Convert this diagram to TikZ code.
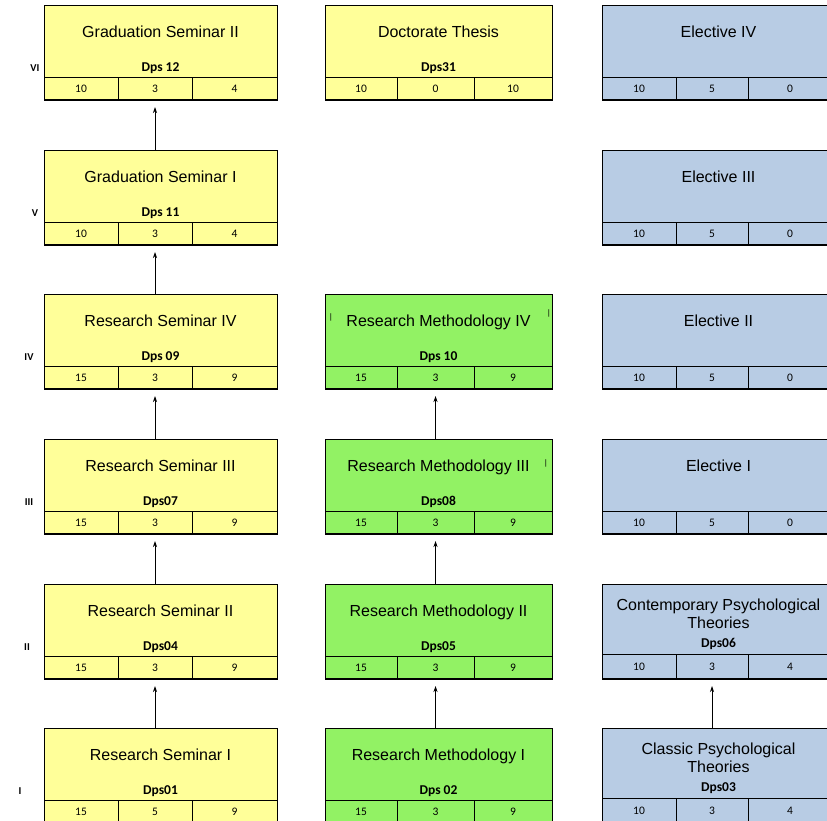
\documentclass[tikz,border=0pt]{standalone}
\usepackage{fontspec}
\setmainfont{Liberation Sans}
\newfontfamily\calib{Carlito}
\usetikzlibrary{arrows.meta}

\definecolor{semyellow}{RGB}{255,255,153}
\definecolor{semgreen}{RGB}{146,242,100}
\definecolor{semblue}{RGB}{184,204,228}

\tikzset{every picture/.style={line width=0.75pt}}
\tikzset{
  course/.style={draw, line width=1pt, minimum height=95, inner sep=0pt, anchor=north west},
  lcol/.style={minimum width=233},
  mcol/.style={minimum width=227},
  rcol/.style={minimum width=233},
  title/.style={inner sep=0.75pt, anchor=base, font=\fontsize{16}{17.5}\selectfont, align=center},
  code/.style={inner sep=0.75pt, font=\calib\bfseries\fontsize{13.5}{15}\selectfont},
  num/.style={inner sep=0.75pt, font=\calib\fontsize{11.5}{13}\selectfont},
  sem/.style={inner sep=0.75pt, font=\calib\bfseries\fontsize{10.5}{12}\selectfont},
  cell/.style={line width=0.9pt},
  base/.style={line width=1.6pt},
  arr/.style={-{Stealth[length=6pt,width=4pt]}, line width=0.75pt, shorten >=6pt},
  stray/.style={inner sep=0pt, font=\fontsize{8}{9}\selectfont}
}

\begin{document}
\begin{tikzpicture}[x=1pt,y=1pt,yscale=-1,xscale=1]
\useasboundingbox (0,0) rectangle (827,820);

% Semester labels
\node[sem] (s6) at (35,68) {VI};
\node[sem] (s5) at (35,213) {V};
\node[sem] (s4) at (29,357) {IV};
\node[sem] (s3) at (29,502) {III};
\node[sem] (s2) at (27,647) {II};
\node[sem] (s1) at (20,791) {I};

%%%%%%%%%%%%%%%% left column %%%%%%%%%%%%%%%%
% Graduation Seminar II
\node[course, lcol, fill=semyellow] (gs2) at (44,5) {};
\node[title] (gs2t) at (160.5,37.5) {Graduation Seminar II};
\node[code] (gs2c) at (160.5,68) {Dps 12};
\draw[cell] (44,77) -- (277,77) (118,77) -- (118,100) (192,77) -- (192,100);
\draw[base] (44,100) -- (277,100);
\node[num] (gs2a) at (81,89) {10};
\node[num] (gs2b) at (155,89) {3};
\node[num] (gs2d) at (234.5,89) {4};

% Graduation Seminar I
\node[course, lcol, fill=semyellow] (gs1) at (44,150) {};
\node[title] (gs1t) at (160.5,182.5) {Graduation Seminar I};
\node[code] (gs1c) at (160.5,213) {Dps 11};
\draw[cell] (44,222) -- (277,222) (118,222) -- (118,245) (192,222) -- (192,245);
\draw[base] (44,245) -- (277,245);
\node[num] (gs1a) at (81,234) {10};
\node[num] (gs1b) at (155,234) {3};
\node[num] (gs1d) at (234.5,234) {4};

% Research Seminar IV
\node[course, lcol, fill=semyellow] (rs4) at (44,294) {};
\node[title] (rs4t) at (160.5,326.5) {Research Seminar IV};
\node[code] (rs4c) at (160.5,357) {Dps 09};
\draw[cell] (44,366) -- (277,366) (118,366) -- (118,389) (192,366) -- (192,389);
\draw[base] (44,389) -- (277,389);
\node[num] (rs4a) at (81,378) {15};
\node[num] (rs4b) at (155,378) {3};
\node[num] (rs4d) at (234.5,378) {9};

% Research Seminar III
\node[course, lcol, fill=semyellow] (rs3) at (44,439) {};
\node[title] (rs3t) at (160.5,471.5) {Research Seminar III};
\node[code] (rs3c) at (160.5,502) {Dps07};
\draw[cell] (44,511) -- (277,511) (118,511) -- (118,534) (192,511) -- (192,534);
\draw[base] (44,534) -- (277,534);
\node[num] (rs3a) at (81,523) {15};
\node[num] (rs3b) at (155,523) {3};
\node[num] (rs3d) at (234.5,523) {9};

% Research Seminar II
\node[course, lcol, fill=semyellow] (rs2) at (44,584) {};
\node[title] (rs2t) at (160.5,616.5) {Research Seminar II};
\node[code] (rs2c) at (160.5,647) {Dps04};
\draw[cell] (44,656) -- (277,656) (118,656) -- (118,679) (192,656) -- (192,679);
\draw[base] (44,679) -- (277,679);
\node[num] (rs2a) at (81,668) {15};
\node[num] (rs2b) at (155,668) {3};
\node[num] (rs2d) at (234.5,668) {9};

% Research Seminar I
\node[course, lcol, fill=semyellow] (rs1) at (44,728) {};
\node[title] (rs1t) at (160.5,760.5) {Research Seminar I};
\node[code] (rs1c) at (160.5,791) {Dps01};
\draw[cell] (44,800) -- (277,800) (118,800) -- (118,823) (192,800) -- (192,823);
\draw[base] (44,823) -- (277,823);
\node[num] (rs1a) at (81,812) {15};
\node[num] (rs1b) at (155,812) {5};
\node[num] (rs1d) at (234.5,812) {9};

%%%%%%%%%%%%%%%% middle column %%%%%%%%%%%%%%%%
% Doctorate Thesis
\node[course, mcol, fill=semyellow] (dt) at (325,5) {};
\node[title] (dtt) at (438.5,37.5) {Doctorate Thesis};
\node[code] (dtc) at (438.5,68) {Dps31};
\draw[cell] (325,77) -- (552,77) (397,77) -- (397,100) (474,77) -- (474,100);
\draw[base] (325,100) -- (552,100);
\node[num] (dta) at (361,89) {10};
\node[num] (dtb) at (435.5,89) {0};
\node[num] (dtd) at (513,89) {10};

% Research Methodology IV
\node[course, mcol, fill=semgreen] (rm4) at (325,294) {};
\node[title] (rm4t) at (438.5,326.5) {Research Methodology IV};
\node[code] (rm4c) at (438.5,357) {Dps 10};
\draw[cell] (325,366) -- (552,366) (397,366) -- (397,389) (474,366) -- (474,389);
\draw[base] (325,389) -- (552,389);
\node[num] (rm4a) at (361,378) {15};
\node[num] (rm4b) at (435.5,378) {3};
\node[num] (rm4d) at (513,378) {9};
\node[stray] (rm4x) at (331,317) {|};
\node[stray] (rm4y) at (549,313) {|};

% Research Methodology III
\node[course, mcol, fill=semgreen] (rm3) at (325,439) {};
\node[title] (rm3t) at (438.5,471.5) {Research Methodology III};
\node[code] (rm3c) at (438.5,502) {Dps08};
\draw[cell] (325,511) -- (552,511) (397,511) -- (397,534) (474,511) -- (474,534);
\draw[base] (325,534) -- (552,534);
\node[num] (rm3a) at (361,523) {15};
\node[num] (rm3b) at (435.5,523) {3};
\node[num] (rm3d) at (513,523) {9};
\node[stray] (rm3y) at (546,463) {|};

% Research Methodology II
\node[course, mcol, fill=semgreen] (rm2) at (325,584) {};
\node[title] (rm2t) at (438.5,616.5) {Research Methodology II};
\node[code] (rm2c) at (438.5,647) {Dps05};
\draw[cell] (325,656) -- (552,656) (397,656) -- (397,679) (474,656) -- (474,679);
\draw[base] (325,679) -- (552,679);
\node[num] (rm2a) at (361,668) {15};
\node[num] (rm2b) at (435.5,668) {3};
\node[num] (rm2d) at (513,668) {9};

% Research Methodology I
\node[course, mcol, fill=semgreen] (rm1) at (325,728) {};
\node[title] (rm1t) at (438.5,760.5) {Research Methodology I};
\node[code] (rm1c) at (438.5,791) {Dps 02};
\draw[cell] (325,800) -- (552,800) (397,800) -- (397,823) (474,800) -- (474,823);
\draw[base] (325,823) -- (552,823);
\node[num] (rm1a) at (361,812) {15};
\node[num] (rm1b) at (435.5,812) {3};
\node[num] (rm1d) at (513,812) {9};

%%%%%%%%%%%%%%%% right column %%%%%%%%%%%%%%%%
% Elective IV
\node[course, rcol, fill=semblue] (el4) at (602,5) {};
\node[title] (el4t) at (718.5,37.5) {Elective IV};
\draw[cell] (602,77) -- (835,77) (676,77) -- (676,100) (748,77) -- (748,100);
\draw[base] (602,100) -- (835,100);
\node[num] (el4a) at (639,89) {10};
\node[num] (el4b) at (712,89) {5};
\node[num] (el4d) at (790,89) {0};

% Elective III
\node[course, rcol, fill=semblue] (el3) at (602,150) {};
\node[title] (el3t) at (718.5,182.5) {Elective III};
\draw[cell] (602,222) -- (835,222) (676,222) -- (676,245) (748,222) -- (748,245);
\draw[base] (602,245) -- (835,245);
\node[num] (el3a) at (639,234) {10};
\node[num] (el3b) at (712,234) {5};
\node[num] (el3d) at (790,234) {0};

% Elective II
\node[course, rcol, fill=semblue] (el2) at (602,294) {};
\node[title] (el2t) at (718.5,326.5) {Elective II};
\draw[cell] (602,366) -- (835,366) (676,366) -- (676,389) (748,366) -- (748,389);
\draw[base] (602,389) -- (835,389);
\node[num] (el2a) at (639,378) {10};
\node[num] (el2b) at (712,378) {5};
\node[num] (el2d) at (790,378) {0};

% Elective I
\node[course, rcol, fill=semblue] (el1) at (602,439) {};
\node[title] (el1t) at (718.5,471.5) {Elective I};
\draw[cell] (602,511) -- (835,511) (676,511) -- (676,534) (748,511) -- (748,534);
\draw[base] (602,534) -- (835,534);
\node[num] (el1a) at (639,523) {10};
\node[num] (el1b) at (712,523) {5};
\node[num] (el1d) at (790,523) {0};

% Contemporary Psychological Theories
\node[course, rcol, fill=semblue] (cp2) at (602,584) {};
\node[title, anchor=center] (cp2t) at (718.5,614) {Contemporary Psychological\\ Theories};
\node[code] (cp2c) at (718.5,644) {Dps06};
\draw[cell] (602,654) -- (835,654) (676,654) -- (676,679) (748,654) -- (748,679);
\draw[base] (602,679) -- (835,679);
\node[num] (cp2a) at (639,667) {10};
\node[num] (cp2b) at (712,667) {3};
\node[num] (cp2d) at (790,667) {4};

% Classic Psychological Theories
\node[course, rcol, fill=semblue] (cp1) at (602,728) {};
\node[title, anchor=center] (cp1t) at (718.5,758) {Classic Psychological\\ Theories};
\node[code] (cp1c) at (718.5,788) {Dps03};
\draw[cell] (602,798) -- (835,798) (676,798) -- (676,823) (748,798) -- (748,823);
\draw[base] (602,823) -- (835,823);
\node[num] (cp1a) at (639,811) {10};
\node[num] (cp1b) at (712,811) {3};
\node[num] (cp1d) at (790,811) {4};

% Arrows
\draw[arr] (rs1b |- rs1.north) -- (rs2.south -| rs2b);
\draw[arr] (rs2b |- rs2.north) -- (rs3.south -| rs3b);
\draw[arr] (rs3b |- rs3.north) -- (rs4.south -| rs4b);
\draw[arr] (rs4b |- rs4.north) -- (gs1.south -| gs1b);
\draw[arr] (gs1b |- gs1.north) -- (gs2.south -| gs2b);
\draw[arr] (rm1b |- rm1.north) -- (rm2.south -| rm2b);
\draw[arr] (rm2b |- rm2.north) -- (rm3.south -| rm3b);
\draw[arr] (rm3b |- rm3.north) -- (rm4.south -| rm4b);
\draw[arr] (cp1b |- cp1.north) -- (cp2.south -| cp2b);

\end{tikzpicture}
\end{document}
